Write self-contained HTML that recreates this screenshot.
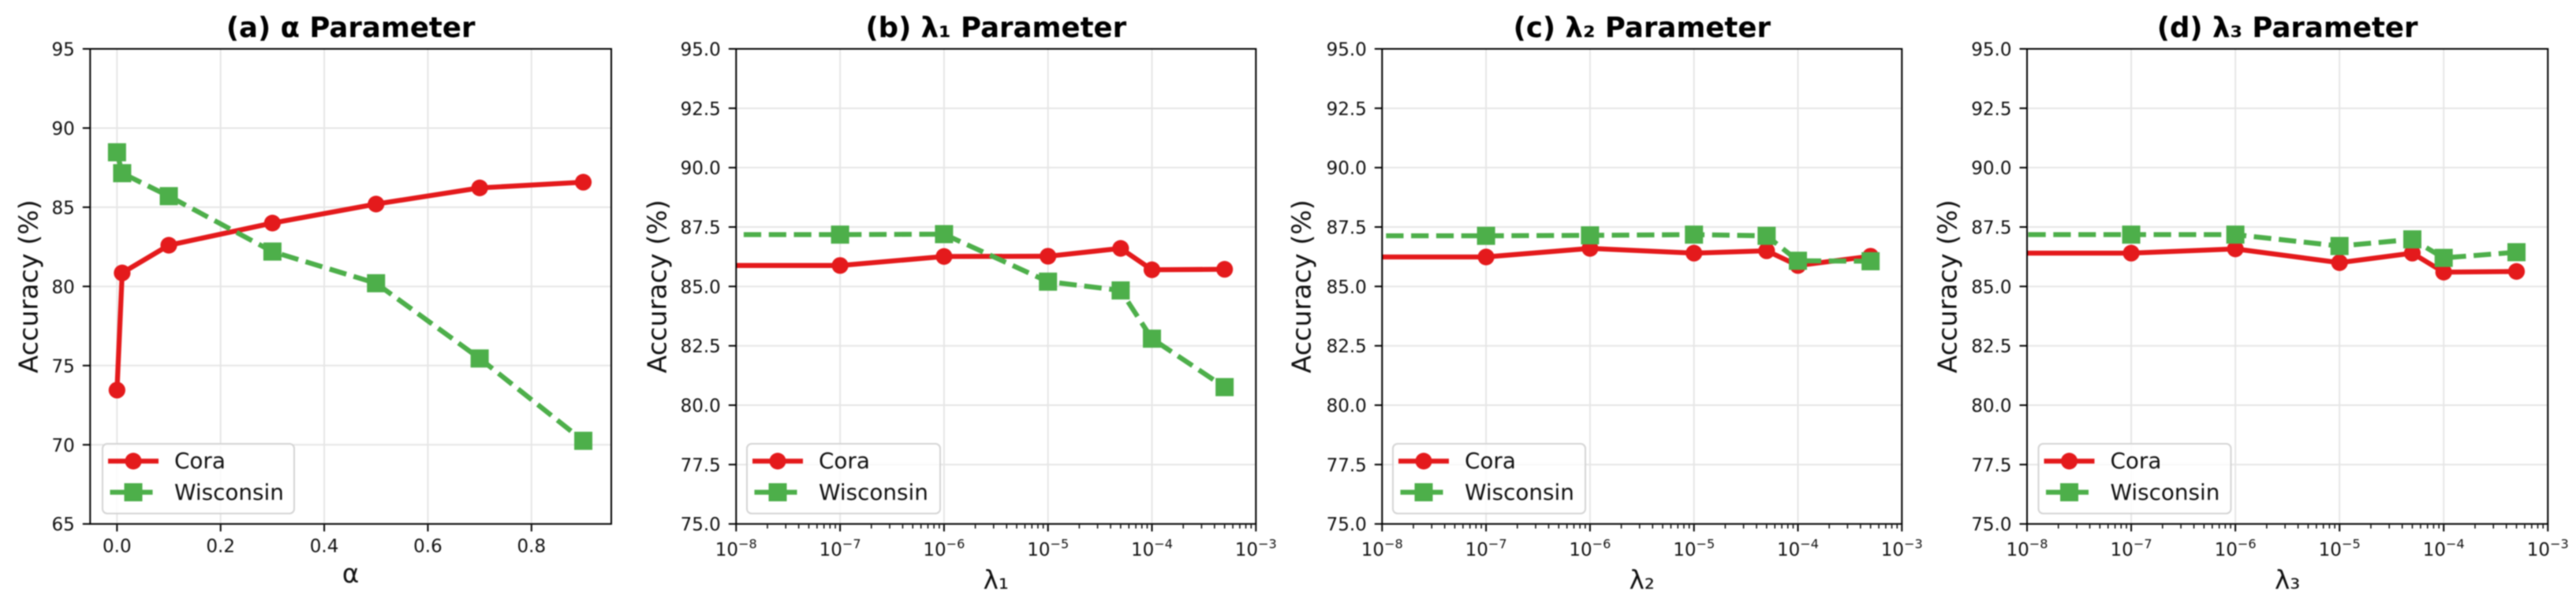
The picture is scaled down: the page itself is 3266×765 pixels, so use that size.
<!DOCTYPE html>
<html>
<head>
<meta charset="utf-8">
<title>Parameter sensitivity</title>
<style>
html,body{margin:0;padding:0;background:#fff;width:3266px;height:765px;overflow:hidden}
svg{display:block;filter:blur(0.8px)}
text{font-family:"DejaVu Sans","Liberation Sans",sans-serif;fill:#111}
</style>
</head>
<body>
<svg id="figure" xmlns="http://www.w3.org/2000/svg" width="3266" height="765" viewBox="0 0 3266 765"></svg>
<script>
const alphaValues = [0, 0.01, 0.1, 0.3, 0.5, 0.7, 0.9];
const coraAlpha = [73.45, 80.85, 82.6, 84.0, 85.2, 86.22, 86.58];
const wisconsinAlpha = [88.47, 87.15, 85.7, 82.2, 80.2, 75.45, 70.25];
const alphaXTicks = [0, 0.2, 0.4, 0.6, 0.8];
const alphaYTicks = [65, 70, 75, 80, 85, 90, 95];

const lambdaValues = [0, 1e-7, 1e-6, 1e-5, 5e-5, 1e-4, 5e-4];
const coraLambda1 = [85.88, 85.88, 86.26, 86.27, 86.6, 85.7, 85.72];
const wisconsinLambda1 = [87.18, 87.18, 87.2, 85.2, 84.83, 82.8, 80.76];
const coraLambda2 = [86.24, 86.24, 86.6, 86.4, 86.5, 85.88, 86.27];
const wisconsinLambda2 = [87.13, 87.13, 87.15, 87.18, 87.13, 86.08, 86.06];
const coraLambda3 = [86.4, 86.4, 86.58, 86.0, 86.4, 85.6, 85.63];
const wisconsinLambda3 = [87.18, 87.18, 87.18, 86.7, 86.98, 86.2, 86.44];
const lambdaDecades = [-8, -7, -6, -5, -4, -3];
const lambdaYTicks = [75, 77.5, 80, 82.5, 85, 87.5, 90, 92.5, 95];

const seriesNames = ['Cora', 'Wisconsin'];
const panelTitles = ['(a) α Parameter', '(b) λ₁ Parameter', '(c) λ₂ Parameter', '(d) λ₃ Parameter'];
const xLabels = ['α', 'λ₁', 'λ₂', 'λ₃'];

const NS = 'http://www.w3.org/2000/svg';
const RED = '#e41a1c';
const GREEN = '#4daf4a';
const root = document.getElementById('figure');

function mk(parent, tag, attrs, txt) {
  const el = document.createElementNS(NS, tag);
  for (const k in attrs) el.setAttribute(k, attrs[k]);
  if (txt !== undefined) el.textContent = txt;
  parent.appendChild(el);
  return el;
}

const panels = [
  {key:'a', left:114.3, right:775, top:62, bottom:664.7, xMin:-0.0518, xMax:0.954, log:false, yMin:65, yMax:95,
   xs:alphaValues, cora:coraAlpha, wisc:wisconsinAlpha, yTicks:alphaYTicks, yDigits:0,
   labelX:47.5, xLabelY:739, legendLeft:130, legendW:243, leadGap:0},
  {key:'b', left:933.3, right:1592.3, top:62, bottom:664.7, log:true, yMin:75, yMax:95,
   xs:lambdaValues, cora:coraLambda1, wisc:wisconsinLambda1, yTicks:lambdaYTicks, yDigits:1,
   labelX:844.5, xLabelY:747, legendLeft:947, legendW:245, leadGap:9.6},
  {key:'c', left:1752.3, right:2411.3, top:62, bottom:664.7, log:true, yMin:75, yMax:95,
   xs:lambdaValues, cora:coraLambda2, wisc:wisconsinLambda2, yTicks:lambdaYTicks, yDigits:1,
   labelX:1661.5, xLabelY:747, legendLeft:1766, legendW:244, leadGap:5},
  {key:'d', left:2570, right:3230.3, top:62, bottom:664.7, log:true, yMin:75, yMax:95,
   xs:lambdaValues, cora:coraLambda3, wisc:wisconsinLambda3, yTicks:lambdaYTicks, yDigits:1,
   labelX:2480.5, xLabelY:747, legendLeft:2584.5, legendW:244, leadGap:1.5}
];

const DASH = 22.2, GAP = 9.6, LW = 6.3;

function circleMarker(g, x, y) {
  const el = mk(g, 'circle', {cx:x, cy:y, r:10.6, fill:RED});
  
  
}
function squareMarker(g, x, y) {
  const el = mk(g, 'rect', {x:x-11.5, y:y-11.5, width:23, height:23, fill:GREEN});
  
  
}

panels.forEach(function (p, idx) {
  const g = mk(root, 'g', {});
  
  

  const xScale = p.log
    ? function (v) {
        if (v <= 0) return p.left;
        return p.left + (Math.log10(v) + 8) / 5 * (p.right - p.left);
      }
    : function (v) { return p.left + (v - p.xMin) / (p.xMax - p.xMin) * (p.right - p.left); };
  const yScale = function (v) { return p.bottom - (v - p.yMin) / (p.yMax - p.yMin) * (p.bottom - p.top); };

  const clipId = 'clip-' + p.key;
  const defs = mk(g, 'defs', {});
  const clip = mk(defs, 'clipPath', {id:clipId});
  mk(clip, 'rect', {x:p.left, y:p.top, width:p.right - p.left, height:p.bottom - p.top});

  const title = mk(g, 'text', {x:(p.left + p.right) / 2, y:47, 'text-anchor':'middle', 'font-size':35.5, 'font-weight':'bold', style:'fill:#000'}, panelTitles[idx]);
  
  

  // x gridlines + ticks + labels
  if (p.log) {
    lambdaDecades.forEach(function (d) {
      const x = xScale(Math.pow(10, d));
      const gl = mk(g, 'line', {x1:x, x2:x, y1:p.top, y2:p.bottom, stroke:'#e6e6e6', 'stroke-width':2});
      
      
      const t = mk(g, 'line', {x1:x, x2:x, y1:p.bottom, y2:p.bottom + 9.5, stroke:'#000', 'stroke-width':2});
      
      
      const lab = mk(g, 'text', {x:x, y:705, 'text-anchor':'middle', 'font-size':23});
      
      
      mk(lab, 'tspan', {}, '10');
      mk(lab, 'tspan', {dy:-9.5, 'font-size':16.1}, '−' + Math.abs(d));
      if (d < -3) {
        for (let m = 2; m <= 9; m++) {
          const mx = xScale(m * Math.pow(10, d));
          const mt = mk(g, 'line', {x1:mx, x2:mx, y1:p.bottom, y2:p.bottom + 5.8, stroke:'#000', 'stroke-width':1.5});
          
          
        }
      }
    });
  } else {
    alphaXTicks.forEach(function (v) {
      const x = xScale(v);
      const gl = mk(g, 'line', {x1:x, x2:x, y1:p.top, y2:p.bottom, stroke:'#e6e6e6', 'stroke-width':2});
      
      
      const t = mk(g, 'line', {x1:x, x2:x, y1:p.bottom, y2:p.bottom + 9.5, stroke:'#000', 'stroke-width':2});
      
      
      const lab = mk(g, 'text', {x:x, y:700.5, 'text-anchor':'middle', 'font-size':23}, v.toFixed(1));
      
      
    });
  }

  // y gridlines + ticks + labels
  p.yTicks.forEach(function (v) {
    const y = yScale(v);
    const gl = mk(g, 'line', {x1:p.left, x2:p.right, y1:y, y2:y, stroke:'#e6e6e6', 'stroke-width':2});
    
    
    const t = mk(g, 'line', {x1:p.left - 9.5, x2:p.left, y1:y, y2:y, stroke:'#000', 'stroke-width':2});
    
    
    const lab = mk(g, 'text', {x:p.left - 19.5, y:y + 8.5, 'text-anchor':'end', 'font-size':23}, v.toFixed(p.yDigits));
    
    
  });

  // series
  const plot = mk(g, 'g', {'clip-path':'url(#' + clipId + ')'});
  
  

  function pts(vals) {
    return vals.map(function (v, i) { return xScale(p.xs[i]).toFixed(2) + ',' + yScale(v).toFixed(2); }).join(' ');
  }

  const redLine = mk(plot, 'polyline', {points:pts(p.cora), fill:'none', stroke:RED, 'stroke-width':LW, 'stroke-linejoin':'round'});
  
  
  p.cora.forEach(function (v, i) {
    if (p.xs[i] <= 0 && p.log) return;
    circleMarker(plot, xScale(p.xs[i]), yScale(v));
  });

  const greenLine = mk(plot, 'polyline', {points:pts(p.wisc), fill:'none', stroke:GREEN, 'stroke-width':LW,
    'stroke-dasharray':DASH + ' ' + GAP, 'stroke-dashoffset':DASH + GAP - p.leadGap});
  
  
  p.wisc.forEach(function (v, i) {
    if (p.xs[i] <= 0 && p.log) return;
    squareMarker(plot, xScale(p.xs[i]), yScale(v));
  });

  // spines
  const frame = mk(g, 'rect', {x:p.left, y:p.top, width:p.right - p.left, height:p.bottom - p.top, fill:'none', stroke:'#000', 'stroke-width':2});
  
  

  // axis labels
  const yl = mk(g, 'text', {x:0, y:0, 'text-anchor':'middle', 'font-size':33.3,
    transform:'translate(' + p.labelX + ',' + ((p.top + p.bottom) / 2) + ') rotate(-90)'}, 'Accuracy (%)');
  
  
  const xl = mk(g, 'text', {x:(p.left + p.right) / 2, y:p.xLabelY, 'text-anchor':'middle', 'font-size':32.5}, xLabels[idx]);
  
  

  // legend
  const lg = mk(g, 'g', {});
  
  
  const L = p.legendLeft;
  const box = mk(lg, 'rect', {x:L, y:563, width:p.legendW, height:88.5, rx:6, ry:6, fill:'#fff', 'fill-opacity':0.8, stroke:'#d4d4d4', 'stroke-width':2});
  
  

  const handle1 = mk(lg, 'line', {x1:L + 7, x2:L + 71, y1:585, y2:585, stroke:RED, 'stroke-width':LW});
  
  
  circleMarker(lg, L + 39, 585);
  const t1 = mk(lg, 'text', {x:L + 91, y:594, 'font-size':27.8}, seriesNames[0]);
  
  

  const handle2 = mk(lg, 'line', {x1:L + 9.5, x2:L + 63.5, y1:624.5, y2:624.5, stroke:GREEN, 'stroke-width':LW});
  
  
  squareMarker(lg, L + 39, 624.5);
  const t2 = mk(lg, 'text', {x:L + 91, y:634, 'font-size':27.8}, seriesNames[1]);
  
  
});
</script>
</body>
</html>
